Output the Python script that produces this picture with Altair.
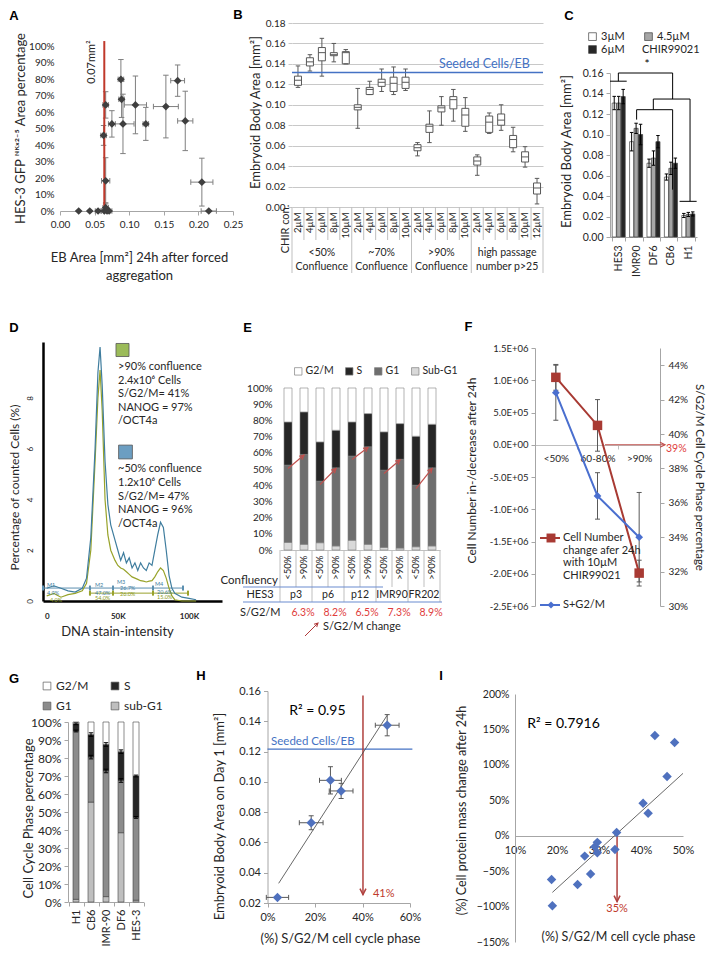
import math
import altair as alt
import pandas as pd

# ------------------------------------------------------------------ data
# A
A_x = [0.027, 0.043, 0.055, 0.064, 0.068, 0.071, 0.066, 0.066, 0.063, 0.066, 0.075,
       0.088, 0.089, 0.091, 0.109, 0.124, 0.153, 0.170, 0.181, 0.205, 0.215]
A_y = [0.0, 0.0, 0.0, 0.0, 0.0, 0.0, 0.02, 0.183, 0.458, 0.643, 0.528,
       0.798, 0.677, 0.528, 0.643, 0.528, 0.633, 0.790, 0.546, 0.175, 0.0]
A_xerr = [0.0, 0.0, 0.004, 0.004, 0.004, 0.004, 0.004, 0.006, 0.004, 0.004, 0.005,
          0.004, 0.004, 0.016, 0.016, 0.004, 0.018, 0.010, 0.011, 0.016, 0.011]
A_yerr = [0.0, 0.0, 0.0, 0.0, 0.0, 0.0, 0.03, 0.14, 0.06, 0.08, 0.08,
          0.12, 0.11, 0.18, 0.175, 0.10, 0.19, 0.095, 0.18, 0.145, 0.0]
A_threshold = [0.064]

# B
B_group_l1 = ["<50%", "~70%", ">90%", "high passage"]
B_group_l2 = ["Confluence", "Confluence", "Confluence", "number p>25"]
B_conc = [["2µM", "4µM", "6µM", "8µM", "10µM"]] * 3 + [["2µM", "4µM", "6µM", "8µM", "10µM", "12µM"]]
B_lo = [0.117, 0.133, 0.128, 0.142, 0.140, 0.077, 0.110, 0.113, 0.110, 0.114,
        0.050, 0.063, 0.080, 0.084, 0.074, 0.031, 0.072, 0.075, 0.054, 0.039, 0.003]
B_q1 = [0.119, 0.138, 0.143, 0.148, 0.140, 0.095, 0.110, 0.118, 0.113, 0.116,
        0.055, 0.073, 0.093, 0.096, 0.079, 0.041, 0.073, 0.080, 0.058, 0.044, 0.0127]
B_med = [0.124, 0.142, 0.151, 0.149, 0.151, 0.0975, 0.115, 0.122, 0.121, 0.122,
         0.058, 0.079, 0.097, 0.105, 0.090, 0.045, 0.083, 0.085, 0.066, 0.049, 0.0186]
B_q3 = [0.128, 0.146, 0.156, 0.151, 0.152, 0.100, 0.117, 0.125, 0.127, 0.127,
        0.061, 0.081, 0.099, 0.108, 0.0965, 0.049, 0.089, 0.091, 0.070, 0.054, 0.0235]
B_hi = [0.138, 0.149, 0.165, 0.160, 0.154, 0.116, 0.123, 0.135, 0.137, 0.135,
        0.063, 0.094, 0.108, 0.115, 0.107, 0.051, 0.092, 0.100, 0.078, 0.059, 0.028]
B_seeded = [0.1316]

# C
C_lines = ["HES3", "IMR90", "DF6", "CB6", "H1"]
C_conc = ["3µM", "4.5µM", "6µM"]
C_val = {"3µM": [0.1307, 0.093, 0.072, 0.0585, 0.021],
         "4.5µM": [0.1307, 0.106, 0.077, 0.067, 0.022],
         "6µM": [0.137, 0.100, 0.093, 0.072, 0.0225]}
C_err = {"3µM": [0.0065, 0.009, 0.004, 0.003, 0.002],
         "4.5µM": [0.0065, 0.005, 0.007, 0.006, 0.002],
         "6µM": [0.007, 0.010, 0.006, 0.005, 0.002]}
# significance bracket (x in category units, y in mm2)
C_br_x0 = [0.48, 0.48, 0.0, 3.6, 2.49, 2.49, 1.53, 1.53, 3.6, 4.6, 4.0]
C_br_x1 = [3.6, 0.48, 0.96, 3.6, 4.6, 2.49, 3.6, 1.53, 3.6, 4.6, 4.98]
C_br_y0 = [0.160, 0.160, 0.152, 0.160, 0.1346, 0.1346, 0.1242, 0.1242, 0.1242, 0.1346, 0.0348]
C_br_y1 = [0.160, 0.152, 0.152, 0.1346, 0.1346, 0.1242, 0.1242, 0.1145, 0.0462, 0.0348, 0.0348]

# D  (DNA stain intensity in K, % of counted cells)
D_k = [0, 5, 10, 15, 20, 25, 28, 31, 34, 36, 37.5, 39, 41, 43, 45, 48, 50, 52, 54, 56,
       58, 60, 62, 64, 66, 68, 70, 72, 74, 76, 78, 80, 82, 84, 86, 88, 90, 95, 100, 105]
D_blue = [0.5, 0.6, 0.5, 0.4, 0.35, 0.5, 0.9, 2.5, 6.0, 9.0, 10.0, 8.5, 5.5, 3.8, 3.0, 2.4, 2.0, 1.6, 1.9, 1.5,
          1.7, 1.3, 1.5, 1.2, 1.5, 1.3, 1.2, 1.5, 1.4, 2.0, 2.6, 3.1, 2.9, 2.0, 1.0, 0.5, 0.3, 0.15, 0.1, 0.05]
D_green = [0.2, 0.3, 0.15, 0.25, 0.3, 0.4, 0.7, 2.0, 5.5, 8.0, 9.1, 7.5, 4.0, 2.6, 2.0, 1.6, 1.4, 1.3, 1.25, 1.15,
           1.05, 0.95, 0.9, 0.85, 0.8, 0.78, 0.75, 0.78, 0.8, 0.95, 1.15, 1.3, 1.2, 0.9, 0.5, 0.2, 0.05, 0.0, 0.0, 0.0]
D_gate_blue = [-2.6, 30.4, 46.6, 74.7, 95.8]
D_gate_green = [30.4, 46.6, 74.7, 99.3]
D_text_green = [">90% confluence", "2.4x10⁶ Cells", "S/G2/M= 41%", "NANOG = 97%", "/OCT4a"]
D_text_blue = ["~50% confluence", "1.2x10⁶ Cells", "S/G2/M= 47%", "NANOG = 96%", "/OCT4a"]

# E
E_conf = ["<50%", ">90%"] * 5
E_pass = ["p3", "p6", "p12", "IMR90", "FR202"]
E_subg1 = [0.047, 0.035, 0.045, 0.025, 0.060, 0.035, 0.016, 0.012, 0.020, 0.025]
E_g1top = [0.524, 0.590, 0.425, 0.507, 0.580, 0.637, 0.493, 0.560, 0.400, 0.507]
E_stop = [0.790, 0.852, 0.667, 0.739, 0.790, 0.842, 0.729, 0.780, 0.702, 0.776]
E_change = ["6.3%", "8.2%", "6.5%", "7.3%", "8.9%"]

# F
F_cats = ["<50%", "60-80%", ">90%"]
F_cells = [1.045e6, 0.30e6, -1.99e6]
F_cells_err = [0.2e6, 0.4e6, 0.2e6]
F_sg2m = [0.424, 0.364, 0.340]
F_sg2m_err = [0.016, 0.0135, 0.026]

# G
G_lines = ["H1", "CB6", "IMR-90", "DF6", "HES-3"]
G_subg1 = [0.015, 0.555, 0.030, 0.385, 0.010]
G_g1top = [0.950, 0.805, 0.728, 0.675, 0.470]
G_stop = [0.990, 0.930, 0.875, 0.835, 0.700]
G_err = [0.005, 0.01, 0.01, 0.01, 0.005]

# H
H_x = [0.042, 0.184, 0.265, 0.310, 0.504]
H_y = [0.0237, 0.073, 0.101, 0.094, 0.1374]
H_xerr = [0.047, 0.050, 0.046, 0.050, 0.050]
H_yerr = [0.0, 0.0046, 0.009, 0.005, 0.007]
H_trend_x = [0.047, 0.504]
H_trend_y = [0.033, 0.144]
H_seeded = [0.1216]
H_mark = [0.402]

# I
I_x = [0.187, 0.189, 0.249, 0.266, 0.280, 0.290, 0.296, 0.296, 0.338, 0.342,
       0.405, 0.417, 0.433, 0.462, 0.480]
I_y = [-0.618, -0.99, -0.69, -0.288, -0.54, -0.156, -0.094, -0.24, -0.193, 0.047,
       0.458, 0.316, 1.415, 0.835, 1.316]
I_trend_x = [0.189, 0.50]
I_trend_y = [-0.80, 0.88]
I_mark = [0.343]

# ------------------------------------------------------------------ helpers
W, H = 698, 938
M = 8
FONT = "Lato"
TXT = "#262626"
GRAY = "#a6a6a6"
RED = "#c0504d"
BLUE = "#4472c4"
ONE = pd.DataFrame({"a": [0]})
CHEV = "M-1,2L0,0L1,2"


def X(p):
    return p - M


def Y(p):
    return p - M


def qs(d0, d1, p0, p1, axis):
    r = [X(p0), X(p1)] if axis == "x" else [Y(p0), Y(p1)]
    return alt.Scale(domain=[d0, d1], range=r, nice=False, zero=False)


def bs(dom, p0, p1, **kw):
    return alt.Scale(type="band", domain=dom, range=[X(p0), X(p1)], **kw)


BASE_AX = dict(grid=False, labelFlush=False, labelOverlap=False, labelFont=FONT, titleFont=FONT,
               labelColor=TXT, titleColor=TXT, domainColor=GRAY, tickColor=GRAY,
               titleFontWeight="normal", labelFontSize=10, titleFontSize=12, labelAngle=0)


def ax_left(p, **kw):
    d = dict(BASE_AX)
    d.update(titleAngle=270, titleBaseline="bottom", titleAlign="center")
    d.update(kw)
    return alt.Axis(orient="left", offset=-X(p), **d)


def ax_right(p, **kw):
    d = dict(BASE_AX)
    d.update(titleAngle=90, titleBaseline="bottom", titleAlign="center")
    d.update(kw)
    return alt.Axis(orient="right", offset=X(p) - W, **d)


def ax_bottom(p, **kw):
    d = dict(BASE_AX)
    d.update(titleBaseline="top", titleAlign="center")
    d.update(kw)
    return alt.Axis(orient="bottom", offset=Y(p) - H, **d)


def T(txt, x, y, size=11, color=TXT, align="left", baseline="middle", angle=0,
      weight="normal", font=FONT, lineHeight=None):
    kw = dict(text=txt, align=align, baseline=baseline, fontSize=size, color=color,
              fontWeight=weight, font=font)
    if angle:
        kw["angle"] = angle
    if lineHeight:
        kw["lineHeight"] = lineHeight
    return alt.Chart(ONE).mark_text(**kw).encode(x=alt.value(X(x)), y=alt.value(Y(y)))


def R(x0, y0, x1, y1, color, w=1.0):
    return alt.Chart(ONE).mark_rule(color=color, strokeWidth=w).encode(
        x=alt.value(X(x0)), x2=alt.value(X(x1)), y=alt.value(Y(y0)), y2=alt.value(Y(y1)))


def S(x, y, shape, size, fill=None, stroke=None, sw=1.0, angle=0):
    kw = dict(shape=shape, size=size, strokeWidth=sw, opacity=1)
    if fill:
        kw.update(filled=True, fill=fill)
    else:
        kw.update(filled=False)
    if stroke:
        kw["stroke"] = stroke
    if angle:
        kw["angle"] = angle
    return alt.Chart(ONE).mark_point(**kw).encode(x=alt.value(X(x)), y=alt.value(Y(y)))


def verr(df, xenc, yc, ec, ys, color, cap=25, w=1.0, extra=None):
    d = df[df[ec] > 0].copy()
    d["_lo"] = d[yc] - d[ec]
    d["_hi"] = d[yc] + d[ec]
    enc = {"x": xenc}
    if extra:
        enc.update(extra)
    rule = alt.Chart(d).mark_rule(color=color, strokeWidth=w).encode(
        y=alt.Y("_lo:Q", scale=ys, axis=None), y2="_hi:Q", **enc)
    caps = pd.concat([d.assign(_c=d["_lo"]), d.assign(_c=d["_hi"])])
    cp = alt.Chart(caps).mark_point(shape="stroke", size=cap, color=color, strokeWidth=w, opacity=1).encode(
        y=alt.Y("_c:Q", scale=ys, axis=None), **enc)
    return [rule, cp]


def herr(df, xc, ec, xs, yenc, color, cap=25, w=1.0):
    d = df[df[ec] > 0].copy()
    d["_lo"] = d[xc] - d[ec]
    d["_hi"] = d[xc] + d[ec]
    rule = alt.Chart(d).mark_rule(color=color, strokeWidth=w).encode(
        x=alt.X("_lo:Q", scale=xs, axis=None), x2="_hi:Q", y=yenc)
    caps = pd.concat([d.assign(_c=d["_lo"]), d.assign(_c=d["_hi"])])
    cp = alt.Chart(caps).mark_point(shape="stroke", angle=90, size=cap, color=color, strokeWidth=w,
                                    opacity=1).encode(x=alt.X("_c:Q", scale=xs, axis=None), y=yenc)
    return [rule, cp]


L = []

# panel letters
for ch, x, y in [("A", 14, 20), ("B", 238, 19), ("C", 569, 20), ("D", 14, 332), ("E", 247.5, 332),
                 ("F", 468.5, 331), ("G", 14, 683), ("H", 201, 680), ("I", 441, 680)]:
    L.append(T(ch, x, y, size=13, align="center", baseline="alphabetic", weight="bold",
               font="Liberation Sans", color="#000000"))

# ------------------------------------------------------------------ A
sAx = qs(0, 0.25, 60, 233, "x")
sAy = qs(0, 1, 211, 46, "y")
dfA = pd.DataFrame(dict(x=A_x, y=A_y, xe=A_xerr, ye=A_yerr))
ya = alt.Y("y:Q", scale=sAy, axis=None)
L += herr(dfA, "x", "xe", sAx, ya, "#7f7f7f", cap=30)
L += verr(dfA, alt.X("x:Q", scale=sAx, axis=None), "y", "ye", sAy, "#7f7f7f", cap=30)
dfAt = pd.DataFrame({"x": A_threshold, "y0": [0.0], "y1": [1.03]})
L.append(alt.Chart(dfAt).mark_rule(color="#c0392b", strokeWidth=2).encode(
    x=alt.X("x:Q", scale=sAx, axis=None), y=alt.Y("y0:Q", scale=sAy, axis=None), y2="y1:Q"))
L.append(alt.Chart(dfA).mark_point(shape="diamond", filled=True, size=60, color="#3f3f3f", opacity=1).encode(
    x=alt.X("x:Q", scale=sAx, axis=ax_bottom(211, values=[0, 0.05, 0.1, 0.15, 0.2, 0.25], tickSize=4,
                                            labelPadding=4,
                                            title=["EB Area [mm²] 24h after forced", "aggregation"],
                                            titleFontSize=13, titleLineHeight=18, titleX=X(139), titleY=40)),
    y=alt.Y("y:Q", scale=sAy, axis=ax_left(60, values=[i / 10 for i in range(11)], format=".0%",
                                          domain=False, ticks=False, labelPadding=6,
                                          title="HES-3 GFP ᴺᴷˣ²⁻⁵ Area percentage", titleFontSize=13,
                                          titleX=-33, titleY=Y(128)))))
L.append(T("0.07mm²", 92, 62, size=11, align="center", angle=270))

# ------------------------------------------------------------------ B
B_keys = []
for g, cs in enumerate(B_conc):
    for c in cs:
        B_keys.append(f"{g}|{c}")
sBx = bs(B_keys, 292, 543, paddingInner=0, paddingOuter=0)
sBy = qs(0, 0.18, 207, 23, "y")
sBn = qs(0, 21, 292, 543, "x")
dfB = pd.DataFrame(dict(key=B_keys, lo=B_lo, q1=B_q1, med=B_med, q3=B_q3, hi=B_hi))
xb = alt.X("key:N", scale=sBx, axis=None, sort=B_keys)
L.append(alt.Chart(dfB).mark_rule(color="#595959").encode(
    x=xb, y=alt.Y("lo:Q", scale=sBy, axis=None), y2="hi:Q"))
L.append(alt.Chart(dfB).mark_bar(size=7, fill="white", stroke="#595959", strokeWidth=1).encode(
    x=alt.X("key:N", scale=sBx, sort=B_keys,
            axis=ax_bottom(207, labelAngle=270, labelAlign="right", labelBaseline="middle",
                           labelExpr="split(datum.label, '|')[1]", ticks=False, domain=False,
                           labelPadding=5, labelFontSize=9.5, title=None)),
    y=alt.Y("q1:Q", scale=sBy,
            axis=ax_left(292, values=[0, 0.02, 0.04, 0.06, 0.08, 0.1, 0.12, 0.14, 0.16, 0.18],
                         grid=True, gridColor="#c8c8c8", domain=False, tickSize=4, tickColor="#c8c8c8",
                         labelPadding=3, title="Embryoid Body Area [mm²]", titleFontSize=13,
                         titleX=-30, titleY=Y(112))),
    y2="q3:Q"))
for col, sz in [("med", 49), ("lo", 20), ("hi", 20)]:
    L.append(alt.Chart(dfB).mark_point(shape="stroke", size=sz, color="#595959", strokeWidth=1,
                                       opacity=1).encode(x=xb, y=alt.Y(f"{col}:Q", scale=sBy, axis=None)))
dfBs = pd.DataFrame({"x0": [0], "x1": [21], "y": B_seeded})
L.append(alt.Chart(dfBs).mark_rule(color=BLUE, strokeWidth=1.6).encode(
    x=alt.X("x0:Q", scale=sBn, axis=None), x2="x1:Q", y=alt.Y("y:Q", scale=sBy, axis=None)))
dfBst = pd.DataFrame({"x": [12.3], "y": [B_seeded[0] + 0.0015], "t": ["Seeded Cells/EB"]})
L.append(alt.Chart(dfBst).mark_text(align="left", baseline="bottom", fontSize=12.5, font=FONT, color=BLUE).encode(
    x=alt.X("x:Q", scale=sBn, axis=None), y=alt.Y("y:Q", scale=sBy, axis=None), text="t:N"))
# table under B
bounds_g = [0, 5, 10, 15, 21]
bounds_i = [i for i in range(1, 21) if i not in bounds_g]
L.append(alt.Chart(pd.DataFrame({"x": bounds_i})).mark_rule(color="#bfbfbf").encode(
    x=alt.X("x:Q", scale=sBn, axis=None), y=alt.value(Y(207)), y2=alt.value(Y(240))))
L.append(alt.Chart(pd.DataFrame({"x": bounds_g})).mark_rule(color="#bfbfbf").encode(
    x=alt.X("x:Q", scale=sBn, axis=None), y=alt.value(Y(207)), y2=alt.value(Y(273))))
dfBg = pd.DataFrame({"c": [2.5, 7.5, 12.5, 18], "l1": B_group_l1, "l2": B_group_l2})
for col, yy in [("l1", 253), ("l2", 267)]:
    L.append(alt.Chart(dfBg).mark_text(fontSize=10.5, font=FONT, color=TXT).encode(
        x=alt.X("c:Q", scale=sBn, axis=None), y=alt.value(Y(yy)), text=f"{col}:N"))
L.append(T("CHIR con.", 286, 229, size=11, align="center", angle=270))

# ------------------------------------------------------------------ C
sCx = bs(C_lines, 610, 697, paddingInner=0.25, paddingOuter=0.125)
sCo = alt.Scale(type="band", domain=C_conc, paddingInner=0.08)
sCy = qs(0, 0.16, 237, 73, "y")
sCn = qs(0, 5, 610, 697, "x")
rows = []
for c in C_conc:
    for i, ln in enumerate(C_lines):
        rows.append(dict(line=ln, conc=c, val=C_val[c][i], err=C_err[c][i], base=0.0))
dfC = pd.DataFrame(rows)
xc = alt.X("line:N", scale=sCx, axis=None, sort=C_lines)
xoc = alt.XOffset("conc:N", scale=sCo, sort=C_conc)
L.append(alt.Chart(dfC).mark_bar(stroke="#404040", strokeWidth=0.7).encode(
    x=alt.X("line:N", scale=sCx, sort=C_lines,
            axis=ax_bottom(237, labelAngle=270, labelAlign="right", labelBaseline="middle",
                           tickBand="extent", tickSize=4, labelPadding=4, labelFontSize=10.5, title=None)),
    xOffset=xoc,
    y=alt.Y("val:Q", scale=sCy,
            axis=ax_left(610, values=[0, 0.02, 0.04, 0.06, 0.08, 0.1, 0.12, 0.14, 0.16], tickSize=4,
                         labelPadding=3, labelFontSize=10.5, title="Embryoid Body Area [mm²]",
                         titleFontSize=13, titleX=-37, titleY=Y(151))),
    y2="base:Q",
    fill=alt.Fill("conc:N", scale=alt.Scale(domain=C_conc, range=["#ffffff", "#a6a6a6", "#262626"]),
                  legend=alt.Legend(orient="none", legendX=X(587), legendY=Y(31), columns=2,
                                    direction="horizontal", title=None,
                                    symbolType="square", symbolSize=60, symbolStrokeColor="#404040",
                                    symbolStrokeWidth=0.7, labelFontSize=11, labelFont=FONT,
                                    labelColor=TXT, columnPadding=18, rowPadding=1, labelOffset=3))))
L += verr(dfC, xc, "val", "err", sCy, "#000000", cap=12, extra={"xOffset": xoc})
dfCb = pd.DataFrame(dict(x0=C_br_x0, x1=C_br_x1, y0=C_br_y0, y1=C_br_y1))
L.append(alt.Chart(dfCb).mark_rule(color="#000000", strokeWidth=1).encode(
    x=alt.X("x0:Q", scale=sCn, axis=None), x2="x1:Q", y=alt.Y("y0:Q", scale=sCy, axis=None), y2="y1:Q"))
L.append(T("*", 647, 71, size=12, align="center", baseline="bottom", color="#000000"))
L.append(T("CHIR99021", 642, 50, size=11))

# ------------------------------------------------------------------ D
sDx = qs(-2.6, 123.2, 43, 222, "x")
sDy = qs(0, 10.2, 601, 342, "y")
dfD = pd.DataFrame({"k": D_k, "blue": D_blue, "green": D_green})
dfGb = pd.DataFrame({"x0": [D_gate_blue[0]], "x1": [D_gate_blue[-1]], "y": [0.51]})
dfGg = pd.DataFrame({"x0": [D_gate_green[0]], "x1": [D_gate_green[-1]], "y": [0.31]})
for dfg, col, ticks in [(dfGb, "#5b8fb0", D_gate_blue), (dfGg, "#9aa22b", D_gate_green)]:
    L.append(alt.Chart(dfg).mark_rule(color=col, strokeWidth=1).encode(
        x=alt.X("x0:Q", scale=sDx, axis=None), x2="x1:Q", y=alt.Y("y:Q", scale=sDy, axis=None)))
    L.append(alt.Chart(pd.DataFrame({"x": ticks, "y": [dfg["y"][0]] * len(ticks)})).mark_point(
        shape="stroke", angle=90, size=25, color=col, opacity=1).encode(
        x=alt.X("x:Q", scale=sDx, axis=None), y=alt.Y("y:Q", scale=sDy, axis=None)))
L.append(alt.Chart(dfD).mark_line(color="#98a32a", strokeWidth=1.2).encode(
    x=alt.X("k:Q", scale=sDx, axis=None), y=alt.Y("green:Q", scale=sDy, axis=None)))
L.append(alt.Chart(dfD).mark_line(color="#3f7d9e", strokeWidth=1.2).encode(
    x=alt.X("k:Q", scale=sDx,
            axis=ax_bottom(601, values=[0, 50, 100], labelExpr="datum.value == 0 ? '0' : datum.value + 'K'",
                           labelFontWeight="bold", labelFontSize=8, labelPadding=11, ticks=False,
                           domainColor="#000000", domainWidth=2.5, title="DNA stain-intensity",
                           titleFontSize=13, titleX=X(117), titleY=24)),
    y=alt.Y("blue:Q", scale=sDy,
            axis=ax_left(43, values=[0, 2, 4, 6, 8], labelAngle=270, labelAlign="center",
                         labelBaseline="bottom", labelFontSize=8, labelPadding=9, ticks=False,
                         domainColor="#000000", domainWidth=2.5,
                         title="Percentage of counted Cells (%)", titleFontSize=12,
                         titleX=-22, titleY=Y(487)))))
for t, x, y, c in [("M1", 47, 585, "#3f7d9e"), ("4.9%", 47, 593, "#3f7d9e"), ("M2", 95, 585, "#3f7d9e"),
                   ("47.0%", 95, 593, "#3f7d9e"), ("M3", 117, 582, "#3f7d9e"), ("26.7%", 120, 588, "#3f7d9e"),
                   ("M4", 155, 584, "#3f7d9e"), ("20.6%", 157, 592, "#3f7d9e"), ("4.0%", 50, 600, "#8a9a20"),
                   ("54.0%", 95, 598, "#8a9a20"), ("26.0%", 120, 594, "#8a9a20"), ("15.0%", 157, 597, "#8a9a20")]:
    L.append(T(t, x, y, size=5.5, color=c))
L.append(S(122.5, 350, "square", 170, fill="#9bbb59", stroke="#555555", sw=0.8))
L.append(S(125.5, 452, "square", 190, fill="#6c9ec2", stroke="#555555", sw=0.8))
L.append(T(D_text_green, 118, 361, size=11, baseline="top", lineHeight=13.6))
L.append(T(D_text_blue, 118, 463, size=11, baseline="top", lineHeight=13.8))

# ------------------------------------------------------------------ E
E_keys = [f"{i}|{c}" for i, c in enumerate(E_conf)]
sEx = bs(E_keys, 280, 440, paddingInner=0, paddingOuter=0)
sEy = qs(0, 1, 550, 388, "y")
sEn = qs(0, 10, 280, 440, "x")
phases = ["G2/M", "S", "G1", "Sub-G1"]
rows = []
for i, k in enumerate(E_keys):
    rows += [dict(key=k, phase="Sub-G1", s=0.0, e=E_subg1[i]),
             dict(key=k, phase="G1", s=E_subg1[i], e=E_g1top[i]),
             dict(key=k, phase="S", s=E_g1top[i], e=E_stop[i]),
             dict(key=k, phase="G2/M", s=E_stop[i], e=1.0)]
dfE = pd.DataFrame(rows)
L.append(alt.Chart(dfE).mark_bar(size=8, stroke="#7f7f7f", strokeWidth=0.6).encode(
    x=alt.X("key:N", scale=sEx, sort=E_keys,
            axis=ax_bottom(550, labelAngle=270, labelAlign="right", labelBaseline="middle",
                           labelExpr="split(datum.label, '|')[1]", ticks=False, labelPadding=5,
                           labelFontSize=9.5, domainColor="#bfbfbf", title=None)),
    y=alt.Y("s:Q", scale=sEy,
            axis=ax_left(280, values=[i / 10 for i in range(11)], format=".0%", domain=False, ticks=False,
                         labelPadding=8, labelFontSize=10, title=None)),
    y2="e:Q",
    fill=alt.Fill("phase:N", scale=alt.Scale(domain=phases, range=["#ffffff", "#262626", "#6e6e6e", "#d9d9d9"]),
                  legend=alt.Legend(orient="none", legendX=X(293), legendY=Y(366), direction="horizontal",
                                    title=None, symbolType="square", symbolSize=55,
                                    symbolStrokeColor="#7f7f7f", symbolStrokeWidth=0.7, labelFontSize=10.5,
                                    labelFont=FONT, labelColor=TXT, columnPadding=10, labelOffset=2))))
ar = []
for k in range(5):
    i0, i1 = 2 * k, 2 * k + 1
    y0, y1 = E_g1top[i0] - 0.021, E_g1top[i1] - 0.004
    dyp, dxp = (y1 - y0) * 162, 16.0
    ang = 90 - math.degrees(math.atan2(dyp, dxp))
    ar.append(dict(x0=i0 + 0.5, x1=i1 + 0.5, y0=y0, y1=y1, ang=ang))
dfEa = pd.DataFrame(ar)
L.append(alt.Chart(dfEa).mark_rule(color=RED, strokeWidth=1.2).encode(
    x=alt.X("x0:Q", scale=sEn, axis=None), x2="x1:Q", y=alt.Y("y0:Q", scale=sEy, axis=None), y2="y1:Q"))
L.append(alt.Chart(dfEa).mark_point(shape=CHEV, filled=False, size=20, color=RED, strokeWidth=1.2, opacity=1).encode(
    x=alt.X("x1:Q", scale=sEn, axis=None), y=alt.Y("y1:Q", scale=sEy, axis=None),
    angle=alt.Angle("ang:Q", scale=None)))
L.append(alt.Chart(pd.DataFrame({"x": [0, 2, 4, 6, 8, 10]})).mark_rule(color="#bfbfbf").encode(
    x=alt.X("x:Q", scale=sEn, axis=None), y=alt.value(Y(550)), y2=alt.value(Y(602))))
L.append(alt.Chart(pd.DataFrame({"x": [1, 3, 5, 7, 9]})).mark_rule(color="#bfbfbf").encode(
    x=alt.X("x:Q", scale=sEn, axis=None), y=alt.value(Y(550)), y2=alt.value(Y(587))))
L.append(R(243, 587, 383, 587, "#6a8bd0", 1.2))
L.append(R(243, 602, 442, 602, "#6a8bd0", 1.2))
L.append(T("Confluency", 278, 581, size=11.5, align="right"))
L.append(T("HES3", 260, 595, size=11, align="center"))
dfEp = pd.DataFrame({"x": [1, 3, 5, 7, 9], "p": E_pass, "c": E_change})
L.append(alt.Chart(dfEp).mark_text(fontSize=10.5, font=FONT, color=TXT).encode(
    x=alt.X("x:Q", scale=sEn, axis=None), y=alt.value(Y(595)), text="p:N"))
L.append(alt.Chart(dfEp).mark_text(fontSize=10.5, font=FONT, color="#e03c3c", dx=7).encode(
    x=alt.X("x:Q", scale=sEn, axis=None), y=alt.value(Y(613)), text="c:N"))
L.append(T("S/G2/M", 240, 613, size=11))
L.append(R(305, 636, 318, 623, "#b03a3a", 1.0))
L.append(S(318, 623, CHEV, 14, stroke="#b03a3a", sw=1.0, angle=45))
L.append(T("S/G2/M change", 323, 627, size=11))

# ------------------------------------------------------------------ F
sFx = bs(F_cats, 535, 660, paddingInner=0, paddingOuter=0)
sFl = qs(-2.5e6, 1.5e6, 606, 348, "y")
sFr = qs(0.30, 0.45, 606, 348, "y")
sFn = qs(0, 3, 535, 660, "x")
FRED = "#a83a33"
FBLUE = "#4a6fcf"
dfF = pd.DataFrame(dict(cat=F_cats, cells=F_cells, ce=F_cells_err, sg=F_sg2m, se=F_sg2m_err))
xf = alt.X("cat:N", scale=sFx, axis=None, sort=F_cats)
Eexpr = ("datum.value == 0 ? '0.0E+00' : (datum.value < 0 ? '-' : '') + "
         "format(abs(datum.value) / pow(10, floor(log(abs(datum.value)) / LN10 + 1e-9)), '.1f') + "
         "'E+0' + floor(log(abs(datum.value)) / LN10 + 1e-9)")
L += verr(dfF, xf, "sg", "se", sFr, "#595959", cap=25)
L += verr(dfF, xf, "cells", "ce", sFl, "#595959", cap=25)
L.append(alt.Chart(dfF).mark_line(color=FRED, strokeWidth=2).encode(
    x=alt.X("cat:N", scale=sFx, sort=F_cats,
            axis=ax_bottom(445, labelAngle=0, labelAlign="center", labelBaseline="top",
                           tickBand="extent", tickSize=4, labelPadding=4, labelFontSize=10,
                           domainColor="#bfbfbf", tickColor="#bfbfbf", title=None)),
    y=alt.Y("cells:Q", scale=sFl,
            axis=ax_left(535, values=[-2.5e6, -2e6, -1.5e6, -1e6, -5e5, 0, 5e5, 1e6, 1.5e6], labelExpr=Eexpr,
                         tickSize=4, labelPadding=3, labelFontSize=9.5,
                         title="Cell Number in-/decrease after 24h", titleFontSize=12,
                         titleX=-57, titleY=Y(470)))))
L.append(alt.Chart(dfF).mark_line(color=FBLUE, strokeWidth=2).encode(
    x=xf,
    y=alt.Y("sg:Q", scale=sFr,
            axis=ax_right(660, values=[0.30, 0.32, 0.34, 0.36, 0.38, 0.40, 0.42, 0.44], format=".0%",
                          tickSize=4, labelPadding=4, labelFontSize=10,
                          title="S/G2/M Cell Cycle Phase percentage", titleFontSize=11.5,
                          titleX=33, titleY=Y(477)))))
L.append(alt.Chart(dfF).mark_point(shape="square", filled=True, size=90, color=FRED, opacity=1).encode(
    x=xf, y=alt.Y("cells:Q", scale=sFl, axis=None)))
L.append(alt.Chart(dfF).mark_point(shape="diamond", filled=True, size=60, color=FBLUE, opacity=1).encode(
    x=xf, y=alt.Y("sg:Q", scale=sFr, axis=None)))
dfFa = pd.DataFrame({"x0": [1.68], "x1": [3.12], "y": [0.0]})
L.append(alt.Chart(dfFa).mark_rule(color=RED, strokeWidth=1.2).encode(
    x=alt.X("x0:Q", scale=sFn, axis=None), x2="x1:Q", y=alt.Y("y:Q", scale=sFl, axis=None)))
L.append(alt.Chart(dfFa).mark_point(shape=CHEV, filled=False, size=25, color=RED, strokeWidth=1.2, angle=90,
                                    opacity=1).encode(
    x=alt.X("x1:Q", scale=sFn, axis=None), y=alt.Y("y:Q", scale=sFl, axis=None)))
L.append(T("39%", 666, 449, size=10.5, color="#e03c3c"))
L.append(R(540, 538, 560, 538, FRED, 2))
L.append(S(551, 538, "square", 80, fill=FRED))
L.append(T(["Cell Number", "change afer 24h", "with 10µM", "CHIR99021"], 563, 532, size=11,
           baseline="top", lineHeight=12.6))
L.append(R(540, 605, 560, 605, FBLUE, 2))
L.append(S(551, 605, "diamond", 50, fill=FBLUE))
L.append(T("S+G2/M", 563, 605, size=11))

# ------------------------------------------------------------------ G
sGx = bs(G_lines, 68.5, 143.5, paddingInner=0, paddingOuter=0)
sGy = qs(0, 1, 902, 722, "y")
gph = ["G2/M", "S", "G1", "sub-G1"]
rows = []
for i, ln in enumerate(G_lines):
    rows += [dict(line=ln, phase="sub-G1", s=0.0, e=G_subg1[i]),
             dict(line=ln, phase="G1", s=G_subg1[i], e=G_g1top[i]),
             dict(line=ln, phase="S", s=G_g1top[i], e=G_stop[i]),
             dict(line=ln, phase="G2/M", s=G_stop[i], e=1.0)]
dfG = pd.DataFrame(rows)
L.append(alt.Chart(dfG).mark_bar(size=6, stroke="#404040", strokeWidth=0.6).encode(
    x=alt.X("line:N", scale=sGx, sort=G_lines,
            axis=ax_bottom(902, labelAngle=270, labelAlign="right", labelBaseline="middle", tickBand="extent",
                           tickSize=4, labelPadding=3, labelFontSize=11, title=None)),
    y=alt.Y("s:Q", scale=sGy,
            axis=ax_left(68, values=[i / 10 for i in range(11)], format=".0%", tickSize=4, labelPadding=3,
                         labelFontSize=12, title="Cell Cycle Phase percentage", titleFontSize=13,
                         titleX=-33, titleY=Y(818))),
    y2="e:Q",
    fill=alt.Fill("phase:N", scale=alt.Scale(domain=gph, range=["#ffffff", "#262626", "#8c8c8c", "#bfbfbf"]),
                  legend=alt.Legend(orient="none", legendX=X(41), legendY=Y(680), columns=2,
                                    direction="horizontal", title=None,
                                    symbolType="square", symbolSize=60, symbolStrokeColor="#595959",
                                    symbolStrokeWidth=0.7, labelFontSize=12, labelFont=FONT, labelColor=TXT,
                                    columnPadding=20, rowPadding=8, labelOffset=3))))
dfGe = pd.DataFrame(dict(line=G_lines * 2, v=G_g1top + G_stop, e=G_err * 2))
L += verr(dfGe, alt.X("line:N", scale=sGx, axis=None, sort=G_lines), "v", "e", sGy, "#000000", cap=20)

# ------------------------------------------------------------------ H
sHx = qs(0, 0.6, 267.5, 410, "x")
sHy = qs(0.02, 0.16, 903, 691, "y")
dfH = pd.DataFrame(dict(x=H_x, y=H_y, xe=H_xerr, ye=H_yerr))
dfHs = pd.DataFrame({"x0": [0.0], "x1": [0.61], "y": H_seeded})
L.append(alt.Chart(dfHs).mark_rule(color=BLUE, strokeWidth=1.3).encode(
    x=alt.X("x0:Q", scale=sHx, axis=None), x2="x1:Q", y=alt.Y("y:Q", scale=sHy, axis=None)))
L.append(alt.Chart(pd.DataFrame({"x": [0.015], "y": [0.1263], "t": ["Seeded Cells/EB"]})).mark_text(
    align="left", baseline="middle", fontSize=11.5, font=FONT, color=BLUE).encode(
    x=alt.X("x:Q", scale=sHx, axis=None), y=alt.Y("y:Q", scale=sHy, axis=None), text="t:N"))
dfHa = pd.DataFrame({"x": H_mark, "y0": [0.157], "y1": [0.0255]})
L.append(alt.Chart(dfHa).mark_rule(color="#b0413e", strokeWidth=1.5).encode(
    x=alt.X("x:Q", scale=sHx, axis=None), y=alt.Y("y0:Q", scale=sHy, axis=None), y2="y1:Q"))
L.append(alt.Chart(dfHa).mark_point(shape=CHEV, filled=False, size=36, color="#b0413e", strokeWidth=1.5, angle=180,
                                    opacity=1).encode(
    x=alt.X("x:Q", scale=sHx, axis=None), y=alt.Y("y1:Q", scale=sHy, axis=None)))
L.append(alt.Chart(pd.DataFrame({"x": H_mark, "y": [0.0258], "t": ["41%"]})).mark_text(
    align="left", dx=10, fontSize=11, font=FONT, color="#c0392b").encode(
    x=alt.X("x:Q", scale=sHx, axis=None), y=alt.Y("y:Q", scale=sHy, axis=None), text="t:N"))
L.append(alt.Chart(pd.DataFrame({"x": H_trend_x, "y": H_trend_y})).mark_line(color="#404040", strokeWidth=0.8).encode(
    x=alt.X("x:Q", scale=sHx, axis=None), y=alt.Y("y:Q", scale=sHy, axis=None)))
yh = alt.Y("y:Q", scale=sHy, axis=None)
L += herr(dfH, "x", "xe", sHx, yh, "#595959", cap=25)
L += verr(dfH, alt.X("x:Q", scale=sHx, axis=None), "y", "ye", sHy, "#595959", cap=25)
L.append(alt.Chart(dfH).mark_point(shape="diamond", filled=True, size=90, color="#4f71be", opacity=1).encode(
    x=alt.X("x:Q", scale=sHx,
            axis=ax_bottom(903, values=[0, 0.2, 0.4, 0.6], format=".0%", tickSize=4, labelPadding=4,
                           labelFontSize=11, title="(%) S/G2/M cell cycle phase", titleFontSize=13,
                           titleX=X(340), titleY=29)),
    y=alt.Y("y:Q", scale=sHy,
            axis=ax_left(267.5, values=[0.02, 0.04, 0.06, 0.08, 0.1, 0.12, 0.14, 0.16], tickSize=4,
                         labelPadding=3, labelFontSize=11, title="Embryoid Body Area on Day 1 [mm²]",
                         titleFontSize=13, titleX=-41, titleY=Y(816)))))
L.append(alt.Chart(pd.DataFrame({"x": [0.21], "y": [0.147], "t": ["R² = 0.95"]})).mark_text(
    fontSize=14, font=FONT, color="#000000").encode(
    x=alt.X("x:Q", scale=sHx, axis=None), y=alt.Y("y:Q", scale=sHy, axis=None), text="t:N"))

# ------------------------------------------------------------------ I
sIx = qs(0.10, 0.50, 515, 683, "x")
sIy = qs(-1.5, 2.0, 942, 694, "y")
dfI = pd.DataFrame(dict(x=I_x, y=I_y))
L.append(alt.Chart(pd.DataFrame({"x": I_trend_x, "y": I_trend_y})).mark_line(color="#404040", strokeWidth=0.8).encode(
    x=alt.X("x:Q", scale=sIx, axis=None), y=alt.Y("y:Q", scale=sIy, axis=None)))
dfIa = pd.DataFrame({"x": I_mark, "y0": [0.0], "y1": [-0.93], "t": ["35%"], "yt": [-1.03]})
L.append(alt.Chart(dfIa).mark_rule(color="#b0413e", strokeWidth=1.5).encode(
    x=alt.X("x:Q", scale=sIx, axis=None), y=alt.Y("y0:Q", scale=sIy, axis=None), y2="y1:Q"))
L.append(alt.Chart(dfIa).mark_point(shape=CHEV, filled=False, size=36, color="#b0413e", strokeWidth=1.5, angle=180,
                                    opacity=1).encode(
    x=alt.X("x:Q", scale=sIx, axis=None), y=alt.Y("y1:Q", scale=sIy, axis=None)))
L.append(alt.Chart(dfIa).mark_text(fontSize=11, font=FONT, color="#c0392b", baseline="middle").encode(
    x=alt.X("x:Q", scale=sIx, axis=None), y=alt.Y("yt:Q", scale=sIy, axis=None), text="t:N"))
L.append(alt.Chart(dfI).mark_point(shape="diamond", filled=True, size=90, color="#4f71be", opacity=1).encode(
    x=alt.X("x:Q", scale=sIx,
            axis=ax_bottom(836, values=[0.1, 0.2, 0.3, 0.4, 0.5], format=".0%", ticks=False, labelPadding=8,
                           labelFontSize=11, title="(%) S/G2/M cell cycle phase", titleFontSize=12.5,
                           titleX=X(618), titleY=94)),
    y=alt.Y("y:Q", scale=sIy,
            axis=ax_left(515, values=[-1.5, -1.0, -0.5, 0, 0.5, 1.0, 1.5, 2.0], format=".0%", ticks=False,
                         labelPadding=6, labelFontSize=10.5, title="(%) Cell protein mass change after 24h",
                         titleFontSize=12.5, titleX=-47, titleY=Y(810)))))
L.append(alt.Chart(pd.DataFrame({"x": [0.129], "y": [1.58], "t": ["R² = 0.7916"]})).mark_text(
    align="left", fontSize=14, font=FONT, color="#000000").encode(
    x=alt.X("x:Q", scale=sIx, axis=None), y=alt.Y("y:Q", scale=sIy, axis=None), text="t:N"))

# ------------------------------------------------------------------ compose
chart = alt.layer(*L).resolve_scale(
    x="independent", y="independent", fill="independent", xOffset="independent"
).resolve_axis(x="independent", y="independent").resolve_legend(fill="independent").properties(
    width=W, height=H, autosize=alt.AutoSizeParams(type="none"), padding=0
).configure_view(stroke=None).configure_text(font=FONT)

chart.save("out.html", embed_options={"renderer": "svg", "actions": False})
